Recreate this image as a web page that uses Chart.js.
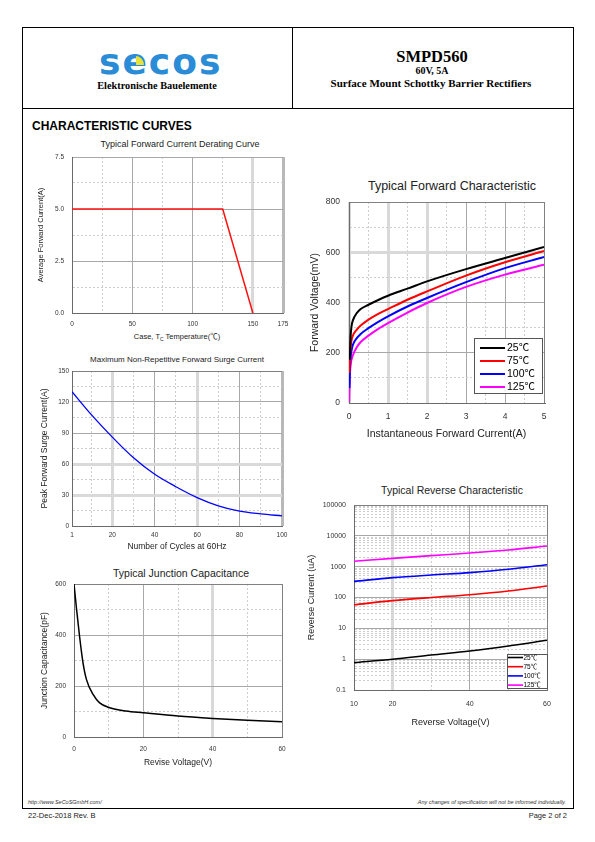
<!DOCTYPE html>
<html>
<head>
<meta charset="utf-8">
<script src="https://cdn.jsdelivr.net/npm/chart.js@4.4.1/dist/chart.umd.min.js"></script>
<style>
html,body{margin:0;padding:0;background:#fff;}
body{width:595px;height:842px;position:relative;overflow:hidden;font-family:"Liberation Sans",Arial,"Noto Sans CJK SC",sans-serif;color:#000;}
.frame{position:absolute;left:22px;top:27px;width:552px;height:782px;border:1px solid #000;box-sizing:border-box;}
.hl{position:absolute;background:#000;}
.t{position:absolute;white-space:nowrap;line-height:1;}
.c{transform:translate(-50%,-50%);}
.l{transform:translate(0,-50%);}
.r{transform:translate(-100%,-50%);}
.serif{font-family:"Liberation Serif","Times New Roman",serif;font-weight:bold;}
.ct{color:#222;font-family:"Liberation Sans",Arial,"Noto Sans CJK SC",sans-serif;}
.cv{position:absolute;}
</style>
</head>
<body>
<div class="frame"></div>
<div class="hl" style="left:22px;top:108px;width:552px;height:1px;"></div>
<div class="hl" style="left:292px;top:27px;width:1px;height:82px;"></div>

<div class="t" style="left:99px;top:44px;font:bold 36px 'DejaVu Sans';color:#2a8bd6;letter-spacing:2px;line-height:36px;">secos</div>
<div style="position:absolute;left:136px;top:56px;width:8px;height:9px;background:#e6e23a;border-top-right-radius:100%;"></div>
<div class="t c serif" style="left:157px;top:86px;font-size:10.3px;">Elektronische Bauelemente</div>

<div class="t c serif" style="left:432px;top:57px;font-size:16.5px;">SMPD560</div>
<div class="t c serif" style="left:432px;top:71px;font-size:10px;">60V, 5A</div>
<div class="t c serif" style="left:431px;top:83px;font-size:11px;">Surface Mount Schottky Barrier Rectifiers</div>

<div class="t l" style="left:32px;top:125.5px;font-size:12px;font-weight:bold;">CHARACTERISTIC CURVES</div>

<div class="t c ct" style="left:180px;top:144px;font-size:9px;">Typical Forward Current Derating Curve</div>
<div class="t c ct" style="left:452px;top:186px;font-size:12.5px;">Typical Forward Characteristic</div>
<div class="t c ct" style="left:177px;top:360px;font-size:8px;">Maximum Non-Repetitive Forward Surge Current</div>
<div class="t c ct" style="left:181px;top:572.5px;font-size:10.5px;">Typical Junction Capacitance</div>
<div class="t c ct" style="left:452px;top:490px;font-size:10.5px;">Typical Reverse Characteristic</div>
<div class="t c ct" style="left:177px;top:337px;font-size:7.5px;">Case, T<sub style="font-size:5px;vertical-align:-2px;">C</sub> Temperature(℃)</div>

<canvas id="c1" class="cv" width="263" height="193" style="left:30px;top:150px;width:263px;height:193px;"></canvas>
<canvas id="c2" class="cv" width="254" height="246" style="left:300px;top:194px;width:254px;height:246px;"></canvas>
<canvas id="c3" class="cv" width="262" height="189" style="left:30px;top:363px;width:262px;height:189px;"></canvas>
<canvas id="c4" class="cv" width="262" height="192" style="left:30px;top:576px;width:262px;height:192px;"></canvas>
<canvas id="c5" class="cv" width="257" height="231" style="left:300px;top:497px;width:257px;height:231px;"></canvas>

<div class="t l" style="left:28px;top:803px;font-size:5.5px;font-style:italic;color:#333;">http://www.SeCoSGmbH.com/</div>
<div class="t r" style="left:566px;top:803px;font-size:5.5px;font-style:italic;color:#333;">Any changes of specification will not be informed individually.</div>
<div class="t l" style="left:28px;top:816px;font-size:7.5px;color:#222;">22-Dec-2018 Rev. B</div>
<div class="t r" style="left:567px;top:816px;font-size:7.5px;color:#222;">Page 2 of 2</div>

<script>
// ---------- DATA ----------
// Derating curve
const derTemp = [0, 125, 150];
const derCurrent = [5, 5, 0];
const derXTicks = [0, 25, 50, 75, 100, 125, 150, 175];
const derXLabels = [0, 50, 100, 150, 175];
const derYTicks = [0, 1.25, 2.5, 3.75, 5, 6.25, 7.5];
const derYLabels = [0, 2.5, 5, 7.5];

// Forward characteristic
const fwdLabels = ['25℃', '75℃', '100℃', '125℃'];
const fwdI25 = [0.02, 0.04, 0.07, 0.1, 0.2, 0.3, 0.5, 0.75, 1, 1.5, 2, 3, 4, 5];
const fwdV25 = [172, 262, 310, 329, 358, 374, 391, 410, 427, 455, 484, 533, 577, 621];
const fwdI75 = [0.01, 0.03, 0.06, 0.1, 0.2, 0.3, 0.5, 0.75, 1, 1.5, 2, 3, 4, 5];
const fwdV75 = [120, 200, 245, 268, 292, 308, 332, 355, 374, 411, 444, 507, 560, 605];
const fwdI100 = [0.01, 0.03, 0.06, 0.1, 0.2, 0.3, 0.5, 0.75, 1, 1.5, 2, 3, 4, 5];
const fwdV100 = [60, 160, 205, 232, 258, 275, 298, 323, 345, 384, 418, 481, 537, 581];
const fwdI125 = [0.005, 0.02, 0.05, 0.1, 0.2, 0.3, 0.5, 0.75, 1, 1.5, 2, 3, 4, 5];
const fwdV125 = [5, 100, 160, 190, 222, 243, 268, 295, 318, 360, 398, 462, 511, 550];
const fwdXTicks = [0, 0.5, 1, 1.5, 2, 2.5, 3, 3.5, 4, 4.5, 5];
const fwdXLabels = [0, 1, 2, 3, 4, 5];
const fwdYTicks = [0, 100, 200, 300, 400, 500, 600, 700, 800];
const fwdYLabels = [0, 200, 400, 600, 800];

// Surge current
const surgeCycles = [1, 10, 20, 30, 40, 50, 60, 70, 80, 90, 100];
const surgeAmps = [130, 108, 86, 66, 50, 38, 27.5, 19.5, 14.3, 11.7, 9.8];
const surgeXTicks = [1, 10, 20, 30, 40, 50, 60, 70, 80, 90, 100];
const surgeXLabels = [1, 20, 40, 60, 80, 100];
const surgeYTicks = [0, 15, 30, 45, 60, 75, 90, 105, 120, 135, 150];
const surgeYLabels = [0, 30, 60, 90, 120, 150];

// Junction capacitance
const capVolt = [0, 0.7, 1.6, 2.6, 3.6, 5.5, 7.4, 10.3, 15, 20, 30, 40, 50, 60];
const capPf = [600, 506, 395, 291, 225, 167, 134, 115, 102, 95, 82, 73, 66, 60];
const capXTicks = [0, 10, 20, 30, 40, 50, 60];
const capXLabels = [0, 20, 40, 60];
const capYTicks = [0, 100, 200, 300, 400, 500, 600];
const capYLabels = [0, 200, 400, 600];

// Reverse characteristic
const revVolt = [10, 20, 30, 40, 50, 60];
const revI25 = [0.77, 0.99, 1.36, 1.84, 2.67, 4.1];
const revI75 = [58, 79, 100, 123, 162, 236];
const revI100 = [334, 440, 537, 640, 820, 1160];
const revI125 = [1490, 1860, 2275, 2775, 3470, 4680];
const revXTicks = [10, 20, 30, 40, 50, 60];
const revXLabels = [10, 20, 40, 60];
const revYLabels = [0.1, 1, 10, 100, 1000, 10000, 100000];
const revMultipliers = [1, 2, 3, 4, 5, 6, 7, 8, 9];

// ---------- HELPERS ----------
Chart.defaults.font.family = '"Liberation Sans", "Noto Sans CJK SC", Arial, sans-serif';
Chart.defaults.color = '#333';
Chart.defaults.animation = false;

const KIND = {
  minor: {c: '#cdcdcd', w: 1, d: [2, 2]},
  major: {c: '#a8a8a8', w: 1, d: []},
  thick: {c: '#d9d9d9', w: 3, d: []},
  edge:  {c: '#b8b8b8', w: 3, d: []},
  dark:  {c: '#808080', w: 1, d: []}
};

function axis(o) {
  const k = ctx => KIND[(ctx && ctx.tick && o.kinds(ctx.tick.value)) || 'major'];
  return {
    type: o.type || 'linear',
    position: o.isY ? 'left' : 'bottom',
    min: o.min, max: o.max,
    afterBuildTicks: s => { s.ticks = o.ticks.map(v => ({value: v})); },
    afterFit: s => {
      if (o.isY) s.width = o.size; else s.height = o.size;
      s.paddingTop = 0; s.paddingBottom = 0; s.paddingLeft = 0; s.paddingRight = 0;
    },
    ticks: {
      autoSkip: false, maxRotation: 0, minRotation: 0,
      padding: o.pad,
      font: {size: o.tickSize},
      color: '#333',
      callback: v => o.labels.includes(v) ? o.fmt(v) : ''
    },
    grid: {
      drawTicks: false,
      color: ctx => k(ctx).c,
      lineWidth: ctx => k(ctx).w,
      borderDash: ctx => k(ctx).d
    },
    border: {color: '#6a6a6a', width: 1, dash: ctx => (ctx && ctx.tick) ? k(ctx).d : []},
    title: o.title ? {
      display: true, text: o.title, color: '#222', font: {size: o.titleSize},
      padding: o.isY ? {top: o.titlePad, bottom: 0} : {top: 0, bottom: o.titlePad}
    } : {display: false}
  };
}

const pts = (xs, ys) => xs.map((x, i) => ({x: x, y: ys[i]}));

const boxLegend = {
  id: 'boxLegend',
  afterDatasetsDraw(chart, args, o) {
    if (!o || !o.w) return;
    const ctx = chart.ctx, a = chart.chartArea;
    ctx.save();
    const bx = Math.round(a.left + o.x) + 0.5, by = Math.round(a.top + o.y) + 0.5;
    ctx.fillStyle = '#fff';
    ctx.fillRect(bx, by, o.w, o.h);
    ctx.strokeStyle = '#555';
    ctx.lineWidth = 1;
    ctx.strokeRect(bx, by, o.w, o.h);
    ctx.font = o.fontStr;
    ctx.textBaseline = 'middle';
    ctx.textAlign = 'left';
    chart.data.datasets.forEach((ds, i) => {
      const y = a.top + o.rowY + i * o.dy;
      ctx.strokeStyle = ds.borderColor;
      ctx.lineWidth = o.lw;
      ctx.beginPath();
      ctx.moveTo(a.left + o.lx1, y);
      ctx.lineTo(a.left + o.lx2, y);
      ctx.stroke();
      ctx.fillStyle = '#000';
      ctx.fillText(ds.label, a.left + o.tx, y + 0.5);
    });
    ctx.restore();
  }
};

function baseOptions(padT, padR, scales, legendOpts) {
  return {
    responsive: false,
    animation: false,
    events: [],
    layout: {padding: {top: padT, right: padR, left: 0, bottom: 0}},
    plugins: {legend: {display: false}, title: {display: false}, tooltip: {enabled: false}, boxLegend: legendOpts || {}},
    scales: scales
  };
}

function lineDs(label, data, color, width, smooth) {
  return {
    label: label, data: data, borderColor: color, backgroundColor: color,
    borderWidth: width, pointRadius: 0, fill: false,
    tension: smooth ? 0.4 : 0,
    cubicInterpolationMode: smooth ? 'monotone' : 'default'
  };
}

// ---------- CHART 1: Derating ----------
new Chart(document.getElementById('c1'), {
  type: 'line',
  data: {datasets: [lineDs('Derating', pts(derTemp, derCurrent), '#ff1010', 1.5, false)]},
  options: baseOptions(7, 10, {
    x: axis({min: 0, max: 175, ticks: derXTicks, labels: derXLabels, fmt: v => String(v), size: 30, pad: 7.5, tickSize: 6.5,
      kinds: v => v === 0 ? 'dark' : v === 150 ? 'thick' : v === 175 ? 'edge' : (v % 50 === 25 ? 'minor' : 'major')}),
    y: axis({isY: true, min: 0, max: 7.5, ticks: derYTicks, labels: derYLabels, fmt: v => v.toFixed(1), size: 42, pad: 8, tickSize: 6.5,
      title: 'Average Forward Current(A)', titleSize: 7.5, titlePad: 6.5,
      kinds: v => v === 0 ? 'dark' : ([1.25, 3.75, 6.25].includes(v) ? 'minor' : 'major')})
  })
});

// ---------- CHART 2: Forward ----------
new Chart(document.getElementById('c2'), {
  type: 'line',
  data: {datasets: [
    lineDs(fwdLabels[0], pts(fwdI25, fwdV25), '#000000', 2, true),
    lineDs(fwdLabels[1], pts(fwdI75, fwdV75), '#ff0000', 2, true),
    lineDs(fwdLabels[2], pts(fwdI100, fwdV100), '#0000ff', 2, true),
    lineDs(fwdLabels[3], pts(fwdI125, fwdV125), '#ff00ff', 2, true)
  ]},
  options: baseOptions(8, 10, {
    x: axis({min: 0, max: 5, ticks: fwdXTicks, labels: fwdXLabels, fmt: v => String(v), size: 37, pad: 8.4, tickSize: 8.5,
      title: 'Instantaneous Forward Current(A)', titleSize: 10.5, titlePad: 0,
      kinds: v => v === 0 ? 'thick' : (v === 1 || v === 2) ? 'thick' : v === 5 ? 'dark' : (v % 1 !== 0 ? 'minor' : 'major')}),
    y: axis({isY: true, min: 0, max: 800, ticks: fwdYTicks, labels: fwdYLabels, fmt: v => String(v), size: 49, pad: 9, tickSize: 8.5,
      title: 'Forward Voltage(mV)', titleSize: 10.5, titlePad: 8.7,
      kinds: v => v === 600 ? 'thick' : v === 800 ? 'dark' : (v % 200 === 100 ? 'minor' : 'major')})
  }, {x: 125, y: 136, w: 68, h: 55, lx1: 131, lx2: 156, tx: 158, rowY: 146, dy: 13, lw: 2,
      fontStr: '10.5px "Liberation Sans", "Noto Sans CJK SC", sans-serif'}),
  plugins: [boxLegend]
});

// ---------- CHART 3: Surge ----------
new Chart(document.getElementById('c3'), {
  type: 'line',
  data: {datasets: [lineDs('Surge', pts(surgeCycles, surgeAmps), '#0000ff', 1.3, true)]},
  options: baseOptions(8, 10, {
    x: axis({min: 1, max: 100, ticks: surgeXTicks, labels: surgeXLabels, fmt: v => String(v), size: 26, pad: 5.8, tickSize: 6.5,
      title: 'Number of Cycles at 60Hz', titleSize: 8.5, titlePad: 0,
      kinds: v => v === 1 ? 'dark' : (v === 20 || v === 60) ? 'thick' : v === 100 ? 'edge' : (v % 20 === 10 ? 'minor' : 'major')}),
    y: axis({isY: true, min: 0, max: 150, ticks: surgeYTicks, labels: surgeYLabels, fmt: v => String(v), size: 42, pad: 3, tickSize: 6.5,
      title: 'Peak Forward Surge Current(A)', titleSize: 8.5, titlePad: 9.9,
      kinds: v => v === 0 ? 'dark' : (v === 30 || v === 60) ? 'thick' : v === 150 ? 'dark' : (v % 30 === 15 ? 'minor' : 'major')})
  })
});

// ---------- CHART 4: Capacitance ----------
new Chart(document.getElementById('c4'), {
  type: 'line',
  data: {datasets: [lineDs('Cj', pts(capVolt, capPf), '#000000', 1.5, true)]},
  options: baseOptions(8, 10, {
    x: axis({min: 0, max: 60, ticks: capXTicks, labels: capXLabels, fmt: v => String(v), size: 31, pad: 8, tickSize: 6.5,
      title: 'Revise Voltage(V)', titleSize: 8.5, titlePad: 0,
      kinds: v => v === 0 ? 'dark' : v === 40 ? 'thick' : v === 60 ? 'dark' : (v % 20 === 10 ? 'minor' : 'major')}),
    y: axis({isY: true, min: 0, max: 600, ticks: capYTicks, labels: capYLabels, fmt: v => String(v), size: 44, pad: 8, tickSize: 6.5,
      title: 'Junction Capacitance(pF)', titleSize: 8.5, titlePad: 9.9,
      kinds: v => v === 0 ? 'dark' : v === 600 ? 'dark' : (v % 200 === 100 ? 'minor' : 'major')})
  })
});

// ---------- CHART 5: Reverse ----------
const revYTicks = [];
revYLabels.slice(0, -1).forEach(d => revMultipliers.forEach(m => revYTicks.push(d * m)));
revYTicks.push(revYLabels[revYLabels.length - 1]);

new Chart(document.getElementById('c5'), {
  type: 'line',
  data: {datasets: [
    lineDs(fwdLabels[0], pts(revVolt, revI25), '#000000', 1.6, true),
    lineDs(fwdLabels[1], pts(revVolt, revI75), '#ff0000', 1.6, true),
    lineDs(fwdLabels[2], pts(revVolt, revI100), '#0000ff', 1.6, true),
    lineDs(fwdLabels[3], pts(revVolt, revI125), '#ff00ff', 1.6, true)
  ]},
  options: baseOptions(8, 10, {
    x: axis({min: 10, max: 60, ticks: revXTicks, labels: revXLabels, fmt: v => String(v), size: 38, pad: 9.8, tickSize: 7,
      title: 'Reverse Voltage(V)', titleSize: 9, titlePad: 0,
      kinds: v => v === 10 ? 'dark' : v === 20 ? 'thick' : v === 60 ? 'dark' : ((v === 30 || v === 50) ? 'minor' : 'major')}),
    y: axis({type: 'logarithmic', isY: true, min: 0.1, max: 100000, ticks: revYTicks, labels: revYLabels, fmt: v => String(v), size: 54, pad: 8, tickSize: 7,
      title: 'Reverse Current (uA)', titleSize: 9, titlePad: 6.6,
      kinds: v => v === 100000 ? 'dark' : (revYLabels.includes(v) ? 'major' : 'minor')})
  }, {x: 153, y: 149, w: 40, h: 34, lx1: 154, lx2: 169, tx: 169.5, rowY: 152.5, dy: 9.2, lw: 1.6,
      fontStr: '6.5px "Liberation Sans", "Noto Sans CJK SC", sans-serif'}),
  plugins: [boxLegend]
});
</script>
</body>
</html>
